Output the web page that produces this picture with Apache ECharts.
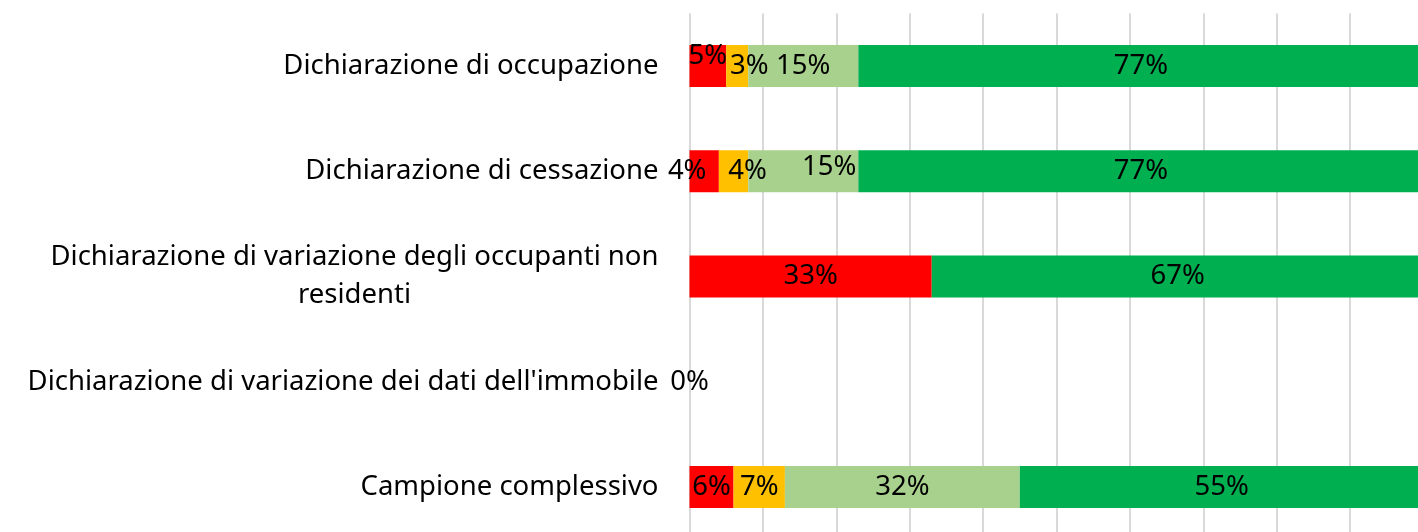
<!DOCTYPE html>
<html>
<head>
<meta charset="utf-8">
<script src="https://cdn.jsdelivr.net/npm/echarts@6/dist/echarts.min.js"></script>
<style>
    html, body { margin: 0; padding: 0; background: #fff; }
    #main { width: 1418px; height: 532px; }
</style>
</head>
<body>
<div id="main"></div>
<script>
var categories = [
    'Dichiarazione di occupazione',
    'Dichiarazione di cessazione',
    'Dichiarazione di variazione degli occupanti non\nresidenti',
    "Dichiarazione di variazione dei dati dell'immobile",
    'Campione complessivo'
];
// valori in percentuale, null = nessun valore
var rossoData = [5, 4, 33, 0, 6];
var gialloData = [3, 4, null, null, 7];
var verdeChiaroData = [15, 15, null, null, 32];
var verdeData = [77, 77, 67, null, 55];

~function () {
    var myChart = echarts.init(document.getElementById('main'));
    var font = 'Noto Sans';
    // piccoli spostamenti delle etichette come nell'originale (serie_indice: [dx, dy])
    var spostamenti = {
        'Rosso_0': [0, -10],
        'Giallo_0': [12, 0],
        'Rosso_1': [-17, 0],
        'Giallo_1': [14, 0],
        'Verde chiaro_1': [26, -4]
    };
    var labelStyle = {
        show: true,
        position: 'inside',
        color: '#000',
        fontFamily: font,
        fontSize: 27.5,
        formatter: '{c}%'
    };
    function serie(name, color, data) {
        return {
            name: name,
            type: 'bar',
            stack: 'totale',
            barWidth: 42,
            itemStyle: {color: color},
            label: labelStyle,
            data: data.map(function (v, i) {
                var off = spostamenti[name + '_' + i];
                return off ? {value: v, label: {offset: off}} : v;
            })
        };
    }
    var option = {
        animation: false,
        grid: {
            left: 689.5,
            width: 734,
            top: 13.5,
            height: 526,
            outerBoundsMode: 'none',
            containLabel: false
        },
        xAxis: [
            {
                type: 'value',
                min: 0,
                max: 100,
                interval: 10,
                axisLabel: {show: false},
                axisLine: {show: false},
                axisTick: {show: false},
                splitLine: {show: true, lineStyle: {color: '#d9d9d9', width: 2}}
            }
        ],
        yAxis: [
            {
                type: 'category',
                inverse: true,
                data: categories,
                axisLine: {show: false},
                axisTick: {show: false},
                axisLabel: {
                    margin: 31,
                    formatter: function (v) {
                        return v.split('\n').map(function (s) {
                            return '{c|' + s + '}';
                        }).join('\n');
                    },
                    rich: {
                        c: {
                            align: 'center',
                            color: '#000',
                            fontFamily: font,
                            fontSize: 27.5,
                            lineHeight: 38
                        }
                    }
                }
            }
        ],
        series: [
            serie('Rosso', '#ff0000', rossoData),
            serie('Giallo', '#ffc000', gialloData),
            serie('Verde chiaro', '#a9d18e', verdeChiaroData),
            serie('Verde', '#00b050', verdeData)
        ]
    };
    myChart.setOption(option);
}();
</script>
</body>
</html>
